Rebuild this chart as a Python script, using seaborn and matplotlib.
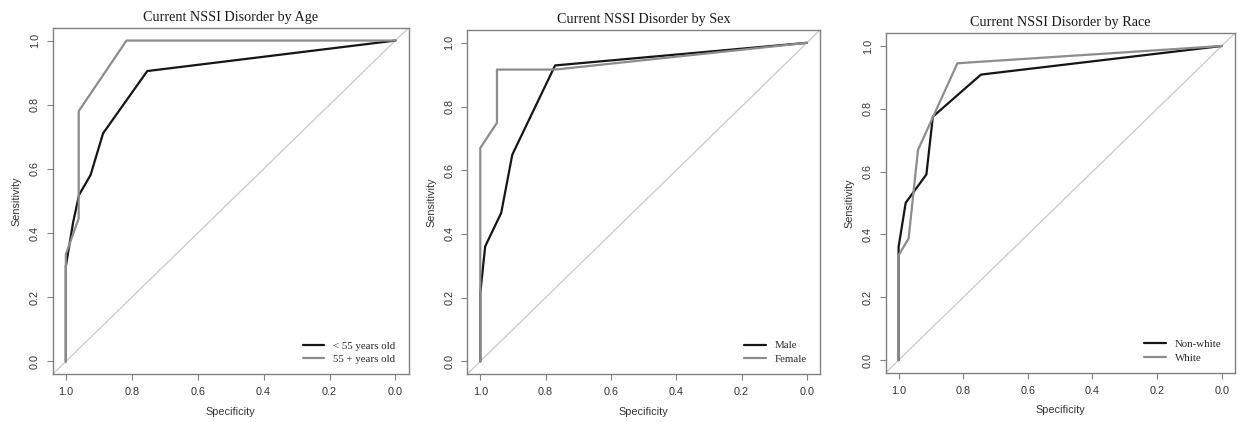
import matplotlib
matplotlib.use("Agg")
import numpy as np
import pandas as pd
import seaborn as sns
from matplotlib import pyplot as plt

# ROC points (specificity, sensitivity), one list per curve
age_young_spec = [1.0, 1.0, 0.978, 0.960, 0.925, 0.887, 0.753, 0.0]
age_young_sens = [0.0, 0.297, 0.433, 0.519, 0.581, 0.711, 0.905, 1.0]
age_old_spec = [1.0, 1.0, 0.961, 0.961, 0.816, 0.0]
age_old_sens = [0.0, 0.334, 0.446, 0.780, 1.0, 1.0]

sex_male_spec = [1.0, 1.0, 0.985, 0.936, 0.902, 0.771, 0.0]
sex_male_sens = [0.0, 0.215, 0.361, 0.466, 0.649, 0.929, 1.0]
sex_female_spec = [1.0, 1.0, 0.949, 0.949, 0.771, 0.0]
sex_female_sens = [0.0, 0.670, 0.749, 0.916, 0.916, 1.0]

race_nonwhite_spec = [1.0, 1.0, 0.978, 0.914, 0.894, 0.745, 0.0]
race_nonwhite_sens = [0.0, 0.361, 0.501, 0.591, 0.775, 0.909, 1.0]
race_white_spec = [1.0, 1.0, 0.969, 0.940, 0.818, 0.0]
race_white_sens = [0.0, 0.334, 0.387, 0.669, 0.945, 1.0]

titles = [
    "Current NSSI Disorder by Age",
    "Current NSSI Disorder by Sex",
    "Current NSSI Disorder by Race",
]
group_labels = [
    ["< 55 years old", "55 + years old"],
    ["Male", "Female"],
    ["Non-white", "White"],
]
curves = [
    [(age_young_spec, age_young_sens), (age_old_spec, age_old_sens)],
    [(sex_male_spec, sex_male_sens), (sex_female_spec, sex_female_sens)],
    [(race_nonwhite_spec, race_nonwhite_sens), (race_white_spec, race_white_sens)],
]
tick_vals = [0.0, 0.2, 0.4, 0.6, 0.8, 1.0]

boxes = [
    [0.0424, 0.113, 0.2866, 0.8213],
    [0.3762, 0.1137, 0.2840, 0.8150],
    [0.7131, 0.1168, 0.2810, 0.8040],
]

sns.set_style("white")
frame_col = "#808080"
text_col = "#333333"

fig = plt.figure(figsize=(12.42, 4.22), dpi=100)

for i in range(3):
    ax = fig.add_axes(boxes[i])
    rows = []
    for label, (spec, sens) in zip(group_labels[i], curves[i]):
        for order, (s, t) in enumerate(zip(spec, sens)):
            rows.append({"spec": s, "sens": t, "group": label, "order": order})
    df = pd.DataFrame(rows)

    # chance diagonal
    ax.axline((1, 0), (0, 1), color="#c8c8c8", lw=0.9, zorder=1)
    sns.lineplot(
        data=df,
        x="spec",
        y="sens",
        hue="group",
        hue_order=group_labels[i],
        palette=["#151515", "#8c8c8c"],
        sort=False,
        estimator=None,
        units="group",
        lw=1.6,
        ax=ax,
        zorder=3,
    )
    handles, labels = ax.get_legend_handles_labels()
    ax.legend(
        handles,
        labels,
        loc="lower right",
        bbox_to_anchor=(0.962, 0.03),
        frameon=False,
        borderaxespad=0,
        borderpad=0,
        handlelength=2.0,
        handletextpad=0.8,
        labelspacing=0.35,
        prop={"family": "Liberation Serif", "size": 7.8},
    )

    ax.set_xlim(1.04, -0.04)
    ax.set_ylim(-0.04, 1.04)
    ax.set_xticks(tick_vals)
    ax.set_yticks(tick_vals)
    ax.set_xticklabels([f"{v:.1f}" for v in tick_vals], family="Liberation Sans", fontsize=7.8)
    ax.set_yticklabels([f"{v:.1f}" for v in tick_vals], family="Liberation Sans",
                       fontsize=7.8, rotation=90, va="center")
    ax.tick_params(axis="both", direction="out", length=4.3, width=0.8,
                   color=frame_col, labelcolor=text_col, pad=5, bottom=True, left=True)
    for sp in ax.spines.values():
        sp.set_color(frame_col)
        sp.set_linewidth(1.0)

    ax.set_xlabel("Specificity", family="Liberation Sans", fontsize=7.8,
                  color=text_col, labelpad=7)
    ax.set_ylabel("Sensitivity", family="Liberation Sans", fontsize=7.8,
                  color=text_col, labelpad=6)
    ax.set_title(titles[i], family="Liberation Serif", fontsize=10.2,
                 color="#1a1a1a", pad=5)

fig.savefig("out.png", dpi=100)
